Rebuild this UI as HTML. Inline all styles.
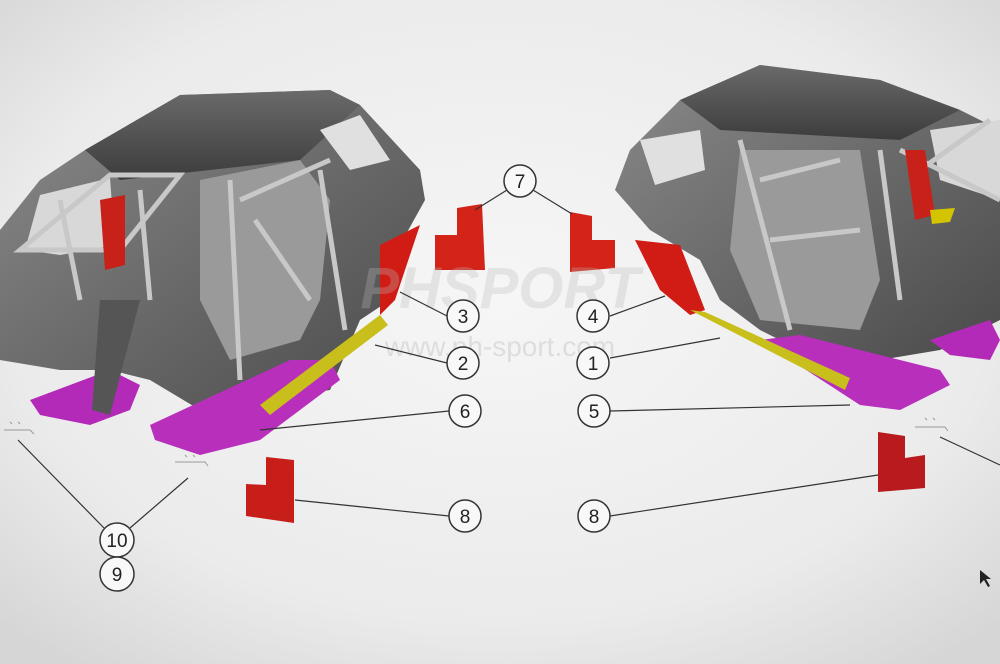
<!DOCTYPE html>
<html><head><meta charset="utf-8"><style>
html,body{margin:0;padding:0;width:1000px;height:664px;overflow:hidden;background:#ececec}
svg{display:block}
text{font-family:"Liberation Sans",sans-serif}
</style></head><body>
<svg width="1000" height="664" viewBox="0 0 1000 664" xmlns="http://www.w3.org/2000/svg">
<defs>
<radialGradient id="bg" cx="50%" cy="45%" r="70%">
<stop offset="0" stop-color="#f6f6f6"/><stop offset="0.7" stop-color="#ebebeb"/><stop offset="1" stop-color="#d6d6d6"/>
</radialGradient>
<linearGradient id="roof" x1="0" y1="0" x2="0" y2="1"><stop offset="0" stop-color="#6a6a6a"/><stop offset="1" stop-color="#3c3c3c"/></linearGradient>
<linearGradient id="body" x1="0" y1="0" x2="1" y2="1"><stop offset="0" stop-color="#8a8a8a"/><stop offset="1" stop-color="#4a4a4a"/></linearGradient>
</defs>
<rect width="1000" height="664" fill="url(#bg)"/>

<!-- LEFT CAR -->
<g>
<polygon points="0,230 40,180 85,150 180,95 330,90 360,105 420,170 425,200 400,245 390,300 360,320 330,390 260,400 200,410 150,380 110,370 60,370 0,360" fill="url(#body)"/>
<polygon points="85,150 180,95 330,90 360,105 300,160 120,180" fill="url(#roof)"/>
<polygon points="40,195 110,178 115,245 60,255 25,250" fill="#d8d8d8"/>
<polygon points="200,180 300,160 330,200 320,300 300,340 230,360 200,300" fill="#9a9a9a"/>
<polygon points="320,130 360,115 390,160 350,170" fill="#e0e0e0"/>
<g stroke="#c8c8c8" stroke-width="5" fill="none">
<path d="M20,250 L110,175 L180,175 L120,250 Z"/>
<path d="M230,180 L240,380 M240,200 L330,160 M255,220 L310,300 M140,190 L150,300 M60,200 L80,300 M320,170 L345,330"/>
</g>
<polygon points="100,200 125,195 125,265 105,270" fill="#c8211a"/>
<polygon points="380,245 420,225 410,255 395,300 380,315" fill="#d01c14"/>
<polygon points="30,400 110,370 140,385 130,410 90,425 40,415" fill="#b42ab8"/>
<polygon points="150,425 290,360 330,360 340,380 260,440 200,455 155,440" fill="#b82fbc"/>
<polygon points="260,405 380,315 388,325 270,415" fill="#c8bf1c"/>
<polygon points="100,300 140,300 110,415 92,410" fill="#555"/>
</g>

<!-- RIGHT CAR -->
<g>
<polygon points="615,190 630,150 680,100 760,65 880,80 960,110 1000,130 1000,320 940,350 880,360 800,350 760,330 720,300 700,260 650,230" fill="url(#body)"/>
<polygon points="680,100 760,65 880,80 960,110 900,140 720,130" fill="url(#roof)"/>
<polygon points="640,140 700,130 705,170 655,185" fill="#e0e0e0"/>
<polygon points="930,130 1000,120 1000,200 940,180" fill="#d8d8d8"/>
<polygon points="740,150 860,150 880,280 860,330 760,320 730,250" fill="#9a9a9a"/>
<g stroke="#c8c8c8" stroke-width="5" fill="none">
<path d="M740,140 L790,330 M760,180 L840,160 M770,240 L860,230 M880,150 L900,300 M900,150 L1000,200 M920,170 L990,120"/>
</g>
<polygon points="905,150 925,150 935,215 915,220" fill="#c8211a"/>
<polygon points="930,210 955,208 950,222 932,224" fill="#d4c400"/>
<polygon points="635,240 680,245 705,310 690,315 660,290" fill="#d01c14"/>
<polygon points="760,340 800,335 940,370 950,385 900,410 860,405" fill="#b82fbc"/>
<polygon points="930,340 990,320 1000,340 990,360 950,355" fill="#b42ab8"/>
<polygon points="690,310 705,312 850,378 845,390" fill="#c8bf1c"/>
</g>

<!-- loose parts -->
<polygon points="457,208 482,204 485,270 435,270 435,235 457,235" fill="#d42318"/>
<polygon points="570,212 592,216 592,240 615,240 615,268 570,272" fill="#d42318"/>
<polygon points="266,457 294,460 294,523 246,516 246,484 266,485" fill="#c81e1a"/>
<polygon points="878,432 905,436 905,458 925,455 925,488 878,492" fill="#b81a1e"/>

<!-- small symbols -->
<g stroke="#999" stroke-width="1" fill="none">
<path d="M4,430 L30,430 L34,434 M10,422 l2,2 M18,422 l2,2"/>
<path d="M175,462 L205,462 L208,466 M185,455 l2,2 M193,455 l2,2"/>
<path d="M915,427 L945,427 L948,431 M925,418 l2,2 M933,418 l2,2"/>
</g>
<path d="M980,570 L980,584 L984,580 L988,587 L990,586 L986,579 L991,579 Z" fill="#222"/>

<!-- watermark -->
<text x="500" y="308" font-size="58" font-weight="bold" font-style="italic" fill="#bbb" fill-opacity="0.3" text-anchor="middle">PHSPORT</text>
<text x="500" y="356" font-size="28" fill="#bbb" fill-opacity="0.4" text-anchor="middle">www.ph-sport.com</text>

<!-- leader lines -->
<g stroke="#333" stroke-width="1.2" fill="none">
<path d="M507,190 L475,210 M533,190 L572,214"/>
<path d="M447,316 L400,292"/>
<path d="M610,316 L665,296"/>
<path d="M447,363 L375,345"/>
<path d="M610,358 L720,338"/>
<path d="M449,411 L260,430"/>
<path d="M610,411 L850,405"/>
<path d="M449,516 L295,500"/>
<path d="M610,516 L878,475"/>
<path d="M104,528 L18,440 M130,528 L188,478"/>
<path d="M940,437 L1000,465"/>
</g>

<!-- callouts -->
<g fill="#f8f8f8" stroke="#333" stroke-width="1.5">
<circle cx="520" cy="181" r="16"/>
<circle cx="463" cy="316" r="16"/><circle cx="593" cy="316" r="16"/>
<circle cx="463" cy="363" r="16"/><circle cx="593" cy="363" r="16"/>
<circle cx="465" cy="411" r="16"/><circle cx="594" cy="411" r="16"/>
<circle cx="465" cy="516" r="16"/><circle cx="594" cy="516" r="16"/>
<circle cx="117" cy="540" r="17"/><circle cx="117" cy="574" r="17"/>
</g>
<g font-size="19" fill="#222" text-anchor="middle">
<text x="520" y="188">7</text>
<text x="463" y="323">3</text><text x="593" y="323">4</text>
<text x="463" y="370">2</text><text x="593" y="370">1</text>
<text x="465" y="418">6</text><text x="594" y="418">5</text>
<text x="465" y="523">8</text><text x="594" y="523">8</text>
<text x="117" y="547">10</text><text x="117" y="581">9</text>
</g>
</svg>
</body></html>
